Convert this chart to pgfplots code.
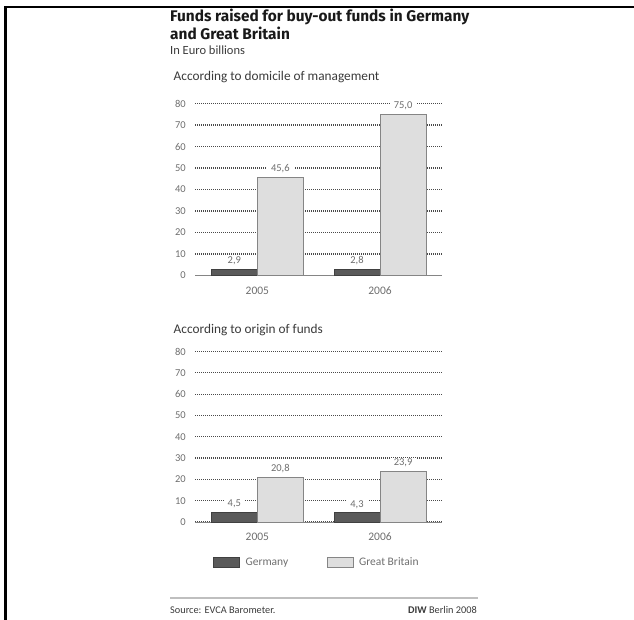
\documentclass[border=0pt]{standalone}
\usepackage{pgfplots}
\pgfplotsset{compat=1.18}
\usepackage{fontspec}
\setmainfont{Carlito}
\newfontfamily\headfont{Fira Sans}

\definecolor{deu}{HTML}{5A5A5A}
\definecolor{deuedge}{HTML}{404040}
\definecolor{gbr}{HTML}{DEDEDE}
\definecolor{gbredge}{HTML}{858585}
\definecolor{gridc}{HTML}{4A4A4A}
\definecolor{ticktext}{HTML}{6E6E6E}
\definecolor{bodytext}{HTML}{3A3A3A}

% Germany bars sit left of each year, Great Britain bars right of it
\pgfplotstableread{
x       y
-0.1875 2.9
0.8125  2.8
}\domDE
\pgfplotstableread{
x       y
0.1875  45.6
1.1875  75.0
}\domGB
\pgfplotstableread{
x       y
-0.1875 4.5
0.8125  4.3
}\oriDE
\pgfplotstableread{
x       y
0.1875  20.8
1.1875  23.9
}\oriGB

\pgfplotsset{
  diwpanel/.style={
    scale only axis, width=247pt,
    xmin=-0.508, xmax=1.505, ymin=0, ymax=80,
    axis lines*=left,
    x axis line style={draw=gbredge, line width=0.9pt},
    y axis line style={draw=none},
    ytick={0,10,...,80}, xtick={0,1}, xticklabels={2005,2006},
    major tick length=0pt,
    ymajorgrids,
    grid style={gridc, line width=1.2pt, dash pattern=on 1.1pt off 0.9pt},
    yticklabel style={ticktext, font=\fontsize{10.5}{12}\selectfont, inner sep=0pt, xshift=-9pt},
    xticklabel style={ticktext, font=\fontsize{11.5}{13}\selectfont, inner sep=0pt, yshift=-11pt},
    /pgf/number format/assume math mode=true,
    clip=false,
  },
  diwbar/.style={
    ybar, bar width=0.375, bar shift=0pt, line width=0.8pt,
    nodes near coords={\pgfmathprintnumber[fixed,fixed zerofill,precision=1,use comma,assume math mode=true]{\pgfplotspointmeta}},
    every node near coord/.append style={font=\fontsize{10.5}{12}\selectfont, text=ticktext,
      fill=white, inner xsep=4pt, inner ysep=1pt, anchor=south, yshift=3pt},
    legend image code/.code={\draw[##1] (0pt,-5pt) rectangle (26pt,5pt);},
  },
}

\begin{document}
\begin{tikzpicture}
\path[use as bounding box] (0,0) rectangle (634pt,-620pt);
% frame
\draw[line width=2.2pt] (5.5pt,-620pt) -- (5.5pt,-7pt) -- (634pt,-7pt);

% headings
\node[anchor=base west, inner sep=0pt, text=black!90] at (170pt,-21.7pt)
  {\headfont\bfseries\fontsize{15.4}{17}\selectfont Funds raised for buy-out funds in Germany};
\node[anchor=base west, inner sep=0pt, text=black!90] at (170pt,-40pt)
  {\headfont\bfseries\fontsize{15.4}{17}\selectfont and Great Britain};
\node[anchor=base west, inner sep=0pt, text=bodytext] at (170pt,-55pt)
  {\fontsize{12.5}{14}\selectfont In Euro billions};
\node[anchor=base west, inner sep=0pt, text=bodytext] at (173.5pt,-80.7pt)
  {\fontsize{13.3}{15}\selectfont According to domicile of management};
\node[anchor=base west, inner sep=0pt, text=bodytext] at (173.5pt,-333pt)
  {\fontsize{13.3}{15}\selectfont According to origin of funds};

% upper panel: by domicile of management
\begin{axis}[diwpanel, height=172pt, at={(195pt,-275.5pt)}, anchor=south west]
  \addplot[diwbar, fill=deu, draw=deuedge] table {\domDE};
  \addplot[diwbar, fill=gbr, draw=gbredge] table {\domGB};
\end{axis}

% lower panel: by origin of funds
\begin{axis}[diwpanel, height=170.5pt, at={(195pt,-522pt)}, anchor=south west,
  legend columns=2,
  legend style={at={(0.073,-0.235)}, anchor=west, draw=none, fill=none, inner sep=0pt,
    font=\fontsize{11.5}{13}\selectfont, text=ticktext,
    nodes={inner sep=2.5pt},
    /tikz/every odd column/.append style={column sep=3pt},
    /tikz/every even column/.append style={column sep=36pt}},
  legend cell align=left]
  \addplot[diwbar, fill=deu, draw=deuedge] table {\oriDE};
  \addplot[diwbar, fill=gbr, draw=gbredge] table {\oriGB};
  \legend{Germany, Great Britain}
\end{axis}

% footer
\draw[line width=1.8pt, black!25] (170pt,-598.3pt) -- (478pt,-598.3pt);
\node[anchor=base west, inner sep=0pt, text=bodytext] at (170pt,-613pt)
  {\fontsize{10.3}{12}\selectfont Source: EVCA Barometer.};
\node[anchor=base east, inner sep=0pt, text=bodytext] at (477pt,-613pt)
  {\fontsize{10.3}{12}\selectfont \textbf{DIW} Berlin 2008};
\end{tikzpicture}
\end{document}
